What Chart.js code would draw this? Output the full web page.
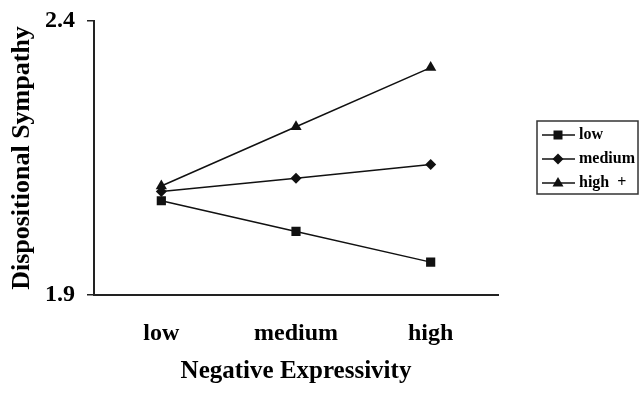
<!DOCTYPE html>
<html><head><meta charset="utf-8">
<script src="https://cdn.jsdelivr.net/npm/chart.js@4/dist/chart.umd.min.js"></script>
<style>html,body{margin:0;padding:0;background:#fff}</style>
</head><body>
<canvas id="c" width="639" height="395"></canvas>
<script>
const categories = ['low', 'medium', 'high'];
const seriesNames = ['low', 'medium', 'high  +'];
const lowValues = [2.072, 2.016, 1.960];
const mediumValues = [2.089, 2.113, 2.138];
const highValues = [2.099, 2.207, 2.315];
const yTicks = [1.9, 2.4];
const xTitle = 'Negative Expressivity';
const yTitle = 'Dispositional Sympathy';

const FONT = '"Liberation Serif", "Times New Roman", serif';
const INK = '#111';

function drawMarker(ctx, style, x, y) {
  ctx.beginPath();
  if (style === 'rect') {
    ctx.rect(x - 4.5, y - 4.5, 9, 9);
  } else if (style === 'rectRot') {
    ctx.moveTo(x, y - 5.5); ctx.lineTo(x + 5.5, y); ctx.lineTo(x, y + 5.5); ctx.lineTo(x - 5.5, y);
  } else {
    ctx.moveTo(x, y - 6); ctx.lineTo(x + 5.5, y + 3.5); ctx.lineTo(x - 5.5, y + 3.5);
  }
  ctx.closePath();
  ctx.fill();
}

const boxLegend = {
  id: 'boxLegend',
  afterDraw(chart) {
    const ctx = chart.ctx;
    ctx.save();
    const bx = 537, by = 121, bw = 101, bh = 73;
    ctx.strokeStyle = '#333';
    ctx.lineWidth = 1.5;
    ctx.strokeRect(bx, by, bw, bh);
    chart.data.datasets.forEach((ds, i) => {
      const y = 135 + i * 24;
      ctx.strokeStyle = INK;
      ctx.lineWidth = 1.5;
      ctx.beginPath(); ctx.moveTo(542, y); ctx.lineTo(575, y); ctx.stroke();
      ctx.fillStyle = INK;
      drawMarker(ctx, ds.pointStyle, 558, y);
      ctx.fillStyle = '#000';
      ctx.font = 'bold 16px ' + FONT;
      ctx.textBaseline = 'middle';
      ctx.textAlign = 'left';
      ctx.fillText(ds.label, 579, y);
    });
    ctx.restore();
  }
};

new Chart(document.getElementById('c'), {
  type: 'line',
  data: {
    labels: categories,
    datasets: [
      { label: seriesNames[0], data: lowValues, pointStyle: 'rect', pointRadius: 6.5 },
      { label: seriesNames[1], data: mediumValues, pointStyle: 'rectRot', pointRadius: 5.5 },
      { label: seriesNames[2], data: highValues, pointStyle: 'triangle', pointRadius: 6.5 }
    ].map(d => Object.assign(d, {
      borderColor: INK, backgroundColor: INK, pointBackgroundColor: INK,
      pointBorderColor: INK, pointBorderWidth: 0, borderWidth: 1.5, tension: 0
    }))
  },
  options: {
    responsive: false,
    devicePixelRatio: 1,
    animation: false,
    layout: { padding: { top: 21, right: 141, bottom: 0, left: 0 } },
    plugins: { legend: { display: false }, tooltip: { enabled: false } },
    scales: {
      x: {
        type: 'category',
        offset: true,
        grid: { display: true, drawOnChartArea: false, drawTicks: false },
        border: { display: true, color: '#222', width: 2 },
        ticks: { color: '#000', padding: 24, font: { family: FONT, size: 24, weight: 'bold' } },
        title: { display: true, text: xTitle, color: '#000', padding: { top: 0, bottom: 8 },
                 font: { family: FONT, size: 25, weight: 'bold' } },
        afterFit(s) { s.height = 100; }
      },
      y: {
        min: 1.9, max: 2.4,
        afterBuildTicks(s) { s.ticks = yTicks.map(v => ({ value: v })); },
        grid: { display: true, drawOnChartArea: false, drawTicks: true, tickLength: 7, color: '#222', lineWidth: 1.5 },
        border: { display: true, color: '#222', width: 2 },
        ticks: { color: '#000', padding: 12, callback: v => Number(v).toFixed(1),
                 font: { family: FONT, size: 24, weight: 'bold' } },
        title: { display: true, text: yTitle, color: '#000', padding: { top: 7, bottom: 0 },
                 font: { family: FONT, size: 26, weight: 'bold' } },
        afterFit(s) { s.width = 94; s.paddingTop = 0; s.paddingBottom = 0; }
      }
    }
  },
  plugins: [boxLegend]
});
</script>
</body></html>
